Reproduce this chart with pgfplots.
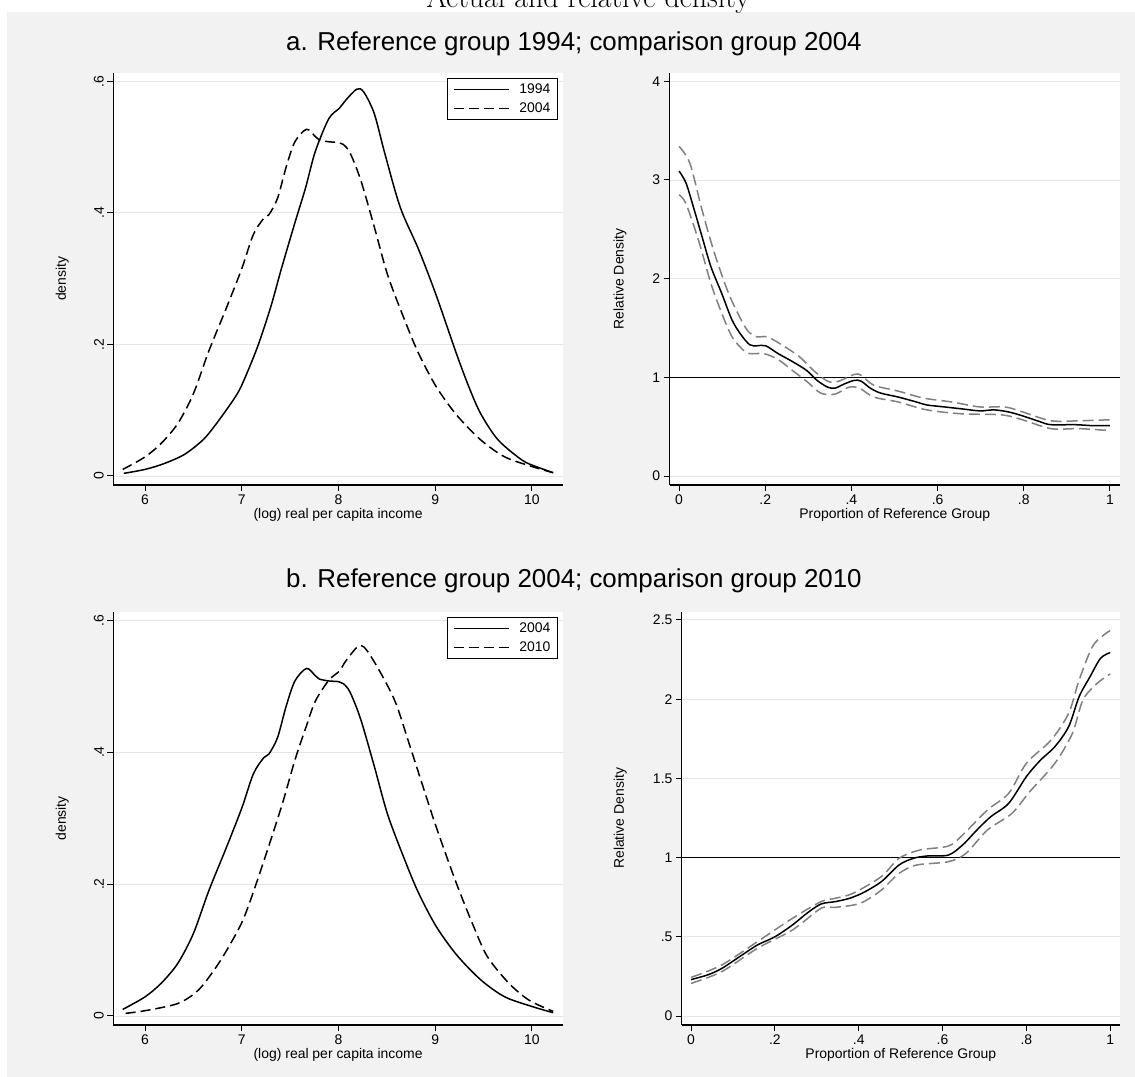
\documentclass[border=0pt]{standalone}
\usepackage{fontspec}
\usepackage{pgfplots}
\pgfplotsset{compat=1.18}
\newfontfamily\arial{Liberation Sans}
\definecolor{bg}{HTML}{F2F2F2}
\definecolor{gridc}{HTML}{E6E6E6}
\definecolor{cig}{HTML}{808080}
\newcommand{\sfont}{\arial\fontsize{14}{16}\selectfont}
\pgfplotsset{
  stata/.style={
    scale only axis,
    anchor=north west,
    axis x line*=bottom, axis y line*=left,
    axis line style={-, black, line width=1.1bp},
    axis background/.style={fill=white},
    tick align=outside,
    major tick length=6bp,
    tick style={black, line width=1bp},
    ymajorgrids, major grid style={gridc, line width=0.9bp},
    tick label style={font=\sfont},
    label style={font=\sfont},
    legend style={font=\sfont},
  },
  dens/.style={
    stata,
    xmin=5.673, xmax=10.32, ymin=-0.0137, ymax=0.613,
    xtick={6,7,8,9,10}, xticklabels={6,7,8,9,10},
    ytick={0,0.2,0.4,0.6}, yticklabels={0,.2,.4,.6},
    yticklabel style={rotate=90, anchor=south},
    xlabel={(log) real per capita income},
    ylabel={density},
    xlabel style={at={(axis description cs:0.5,-0.073)}, anchor=center},
    ylabel style={at={(axis description cs:-0.114,0.5)}, anchor=center, rotate=0},
    legend style={at={(axis description cs:1,1)}, xshift=-5bp, yshift=-5.6bp, anchor=north east,
      draw=black, line width=0.9bp, fill=white, inner xsep=5bp, inner ysep=3bp, row sep=4bp,
      /tikz/every odd column/.append style={column sep=8bp}},
    legend image code/.code={\draw[##1] (0bp,0bp) -- (55bp,0bp);},
    legend cell align=left,
  },
  rel/.style={
    stata,
    xmin=-0.022, xmax=1.023,
    xtick={0,0.2,0.4,0.6,0.8,1}, xticklabels={0,.2,.4,.6,.8,1},
    xlabel={Proportion of Reference Group},
    ylabel={Relative Density},
    xlabel style={at={(axis description cs:0.5,-0.073)}, anchor=center},
  },
  solidc/.style={black, line width=1.5bp, smooth},
  dashc/.style={black, line width=1.5bp, smooth, dash pattern=on 10bp off 5bp},
  cic/.style={cig, line width=1.5bp, smooth, dash pattern=on 11bp off 5bp},
  midc/.style={black, line width=1.5bp, smooth},
}
\begin{document}
\begin{tikzpicture}
\path[use as bounding box] (0,0) rectangle (1135bp,-1077bp);
\fill[white] (0,0) rectangle (1135bp,-1077bp);
\fill[bg] (7bp,-12bp) rectangle (1135bp,-1077bp);
\node[anchor=base, font=\fontsize{30}{32}\selectfont] at (588bp,-7.5bp) {Actual and relative density};
\node[anchor=base, font=\arial\fontsize{26}{28}\selectfont] at (574bp,-50bp) {a. Reference group 1994; comparison group 2004};
\node[anchor=base, font=\arial\fontsize{26}{28}\selectfont] at (574bp,-587bp) {b. Reference group 2004; comparison group 2010};

% ---------------- panel a, left
\begin{axis}[dens, at={(113.4bp,-72.7bp)}, width=449.4bp, height=412.3bp]
\addplot[solidc] coordinates {
(5.78,0.004) (6.0,0.010) (6.2,0.019) (6.41,0.033) (6.6,0.055) (6.73,0.078) (6.91,0.115) (7.0,0.138)
(7.16,0.195) (7.3,0.257) (7.41,0.315) (7.55,0.385) (7.66,0.438) (7.76,0.493) (7.9,0.543) (8.01,0.559)
(8.08,0.572) (8.19,0.588) (8.26,0.584) (8.37,0.551) (8.48,0.49) (8.64,0.408) (8.83,0.344) (9.01,0.275)
(9.22,0.186) (9.35,0.135) (9.47,0.095) (9.65,0.055) (9.9,0.024) (10.05,0.014) (10.22,0.005)};
\addlegendentry{1994}
\addplot[dashc] coordinates {
(5.77,0.010) (6.0,0.029) (6.17,0.050) (6.34,0.080) (6.5,0.125) (6.66,0.19) (6.84,0.255) (7.0,0.315)
(7.12,0.367) (7.23,0.392) (7.28,0.397) (7.37,0.422) (7.46,0.470) (7.55,0.508) (7.67,0.527) (7.76,0.516)
(7.80,0.511) (7.9,0.508) (8.0,0.507) (8.05,0.504) (8.12,0.491) (8.23,0.45) (8.37,0.379) (8.51,0.305)
(8.69,0.235) (8.83,0.186) (9.01,0.136) (9.22,0.093) (9.47,0.055) (9.72,0.029) (10.01,0.014) (10.22,0.005)};
\addlegendentry{2004}
\end{axis}

% ---------------- panel a, right
\begin{axis}[rel, at={(669.6bp,-72.7bp)}, width=450.2bp, height=412.3bp,
  ymin=-0.0912, ymax=4.087, ytick={0,1,2,3,4}, yticklabels={0,1,2,3,4},
  ylabel style={at={(axis description cs:-0.110,0.5)}, anchor=center}]
\addplot[black, line width=1bp] coordinates {(-0.022,1) (1.023,1)};
\addplot[cic] coordinates {
(0,3.34) (0.025,3.17) (0.053,2.70) (0.082,2.26) (0.115,1.85) (0.148,1.55) (0.164,1.45) (0.181,1.41)
(0.205,1.41) (0.238,1.33) (0.279,1.21) (0.312,1.07) (0.345,0.96) (0.37,0.96) (0.407,1.03) (0.423,1.02)
(0.452,0.92) (0.509,0.86) (0.567,0.79) (0.633,0.75) (0.698,0.70) (0.756,0.70) (0.797,0.65) (0.863,0.56)
(0.93,0.56) (1.0,0.57)};
\addplot[cic] coordinates {
(0,2.85) (0.016,2.76) (0.045,2.39) (0.074,1.95) (0.099,1.65) (0.123,1.41) (0.148,1.28) (0.164,1.24)
(0.197,1.24) (0.23,1.18) (0.263,1.07) (0.296,0.96) (0.329,0.84) (0.362,0.83) (0.394,0.90) (0.419,0.89)
(0.452,0.80) (0.509,0.75) (0.575,0.67) (0.657,0.63) (0.748,0.62) (0.797,0.57) (0.863,0.48) (0.93,0.48)
(1.0,0.46)};
\addplot[midc] coordinates {
(0,3.09) (0.016,2.97) (0.033,2.73) (0.053,2.43) (0.074,2.12) (0.099,1.85) (0.123,1.58) (0.144,1.43)
(0.164,1.33) (0.181,1.32) (0.201,1.32) (0.23,1.24) (0.263,1.16) (0.296,1.07) (0.32,0.97) (0.345,0.90)
(0.362,0.89) (0.382,0.93) (0.407,0.97) (0.423,0.96) (0.444,0.89) (0.468,0.84) (0.509,0.80) (0.551,0.75)
(0.575,0.72) (0.616,0.70) (0.657,0.68) (0.698,0.66) (0.731,0.67) (0.764,0.65) (0.797,0.61) (0.838,0.55)
(0.863,0.52) (0.920,0.52) (0.961,0.51) (1.0,0.51)};
\end{axis}

% ---------------- panel b, left
\begin{axis}[dens, at={(113.4bp,-611.7bp)}, width=449.4bp, height=413.3bp]
\addplot[solidc] coordinates {
(5.77,0.010) (6.0,0.029) (6.17,0.050) (6.34,0.080) (6.5,0.125) (6.66,0.19) (6.84,0.255) (7.0,0.315)
(7.12,0.367) (7.23,0.392) (7.28,0.397) (7.37,0.422) (7.46,0.470) (7.55,0.508) (7.67,0.527) (7.76,0.516)
(7.80,0.511) (7.9,0.508) (8.0,0.507) (8.05,0.504) (8.12,0.491) (8.23,0.45) (8.37,0.379) (8.51,0.305)
(8.69,0.235) (8.83,0.186) (9.01,0.136) (9.22,0.093) (9.47,0.055) (9.72,0.029) (10.01,0.014) (10.22,0.005)};
\addlegendentry{2004}
\addplot[dashc] coordinates {
(5.8,0.004) (6.0,0.008) (6.34,0.019) (6.55,0.039) (6.73,0.073) (6.87,0.106) (7.02,0.148) (7.19,0.218)
(7.41,0.317) (7.55,0.388) (7.66,0.436) (7.76,0.477) (7.9,0.509) (8.01,0.523) (8.08,0.539) (8.23,0.562)
(8.37,0.537) (8.58,0.479) (8.72,0.418) (8.83,0.368) (9.01,0.287) (9.22,0.201) (9.4,0.135) (9.54,0.09)
(9.76,0.05) (9.97,0.024) (10.22,0.007)};
\addlegendentry{2010}
\end{axis}

% ---------------- panel b, right
\begin{axis}[rel, at={(681.9bp,-611.7bp)}, width=437.9bp, height=413.3bp,
  ymin=-0.0568, ymax=2.552, ytick={0,0.5,1,1.5,2,2.5}, yticklabels={0,.5,1,1.5,2,2.5},
  ylabel style={at={(axis description cs:-0.141,0.5)}, anchor=center}]
\addplot[black, line width=1bp] coordinates {(-0.022,1) (1.023,1)};
\addplot[cic] coordinates {
(0,0.244) (0.073,0.322) (0.158,0.469) (0.242,0.617) (0.31,0.722) (0.344,0.743) (0.386,0.774) (0.454,0.880)
(0.496,0.995) (0.546,1.048) (0.614,1.073) (0.648,1.143) (0.707,1.30) (0.758,1.406) (0.8,1.595) (0.859,1.742)
(0.901,1.911) (0.926,2.121) (0.96,2.342) (1.0,2.433)};
\addplot[cic] coordinates {
(0,0.206) (0.073,0.28) (0.158,0.427) (0.242,0.543) (0.31,0.68) (0.344,0.686) (0.403,0.711) (0.454,0.795)
(0.496,0.90) (0.538,0.953) (0.614,0.974) (0.656,1.027) (0.707,1.174) (0.766,1.28) (0.808,1.416) (0.868,1.595)
(0.91,1.785) (0.935,1.995) (0.969,2.10) (1.0,2.159)};
\addplot[midc] coordinates {
(0,0.23) (0.04,0.26) (0.073,0.30) (0.116,0.375) (0.158,0.448) (0.2,0.50) (0.242,0.575) (0.276,0.648)
(0.31,0.707) (0.344,0.722) (0.378,0.743) (0.411,0.779) (0.454,0.848) (0.496,0.953) (0.53,0.995) (0.563,1.01)
(0.614,1.016) (0.648,1.08) (0.682,1.174) (0.715,1.258) (0.758,1.343) (0.8,1.511) (0.834,1.616) (0.868,1.70)
(0.901,1.827) (0.926,2.016) (0.952,2.142) (0.977,2.258) (1.0,2.294)};
\end{axis}
\end{tikzpicture}
\end{document}
